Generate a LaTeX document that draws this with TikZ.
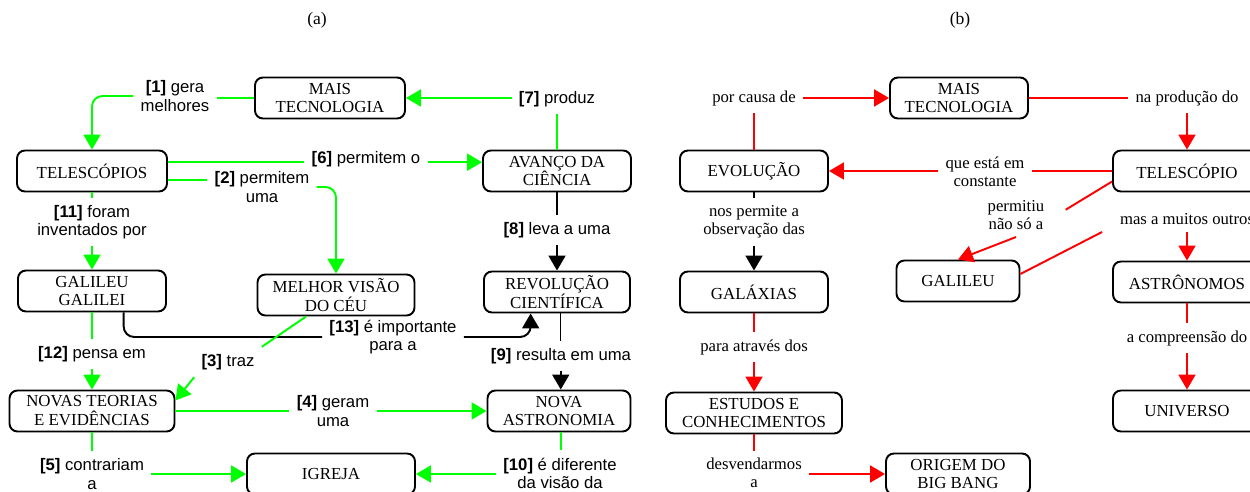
\documentclass[tikz,border=0pt]{standalone}
\usepackage{fontspec}
\setmainfont{Liberation Serif}
\setsansfont{Liberation Sans}
\usetikzlibrary{arrows.meta, positioning}
\definecolor{mapgreen}{HTML}{00FF00}
\definecolor{mapred}{HTML}{FF0000}

\begin{document}
\begin{tikzpicture}[
    x=0.02cm, y=-0.02cm,
    box/.style={draw, line width=1.1pt, rounded corners=4.5pt, minimum height=0.82cm, inner sep=1pt, align=center, font=\fontsize{9.6}{10.8}\selectfont},
    lbla/.style={align=center, inner sep=4pt, font=\sffamily\fontsize{9.5}{10.3}\selectfont},
    lblb/.style={align=center, inner sep=4pt, font=\fontsize{9.5}{10.3}\selectfont},
    link/.style={line width=1.1pt},
    arrow/.style={link, -{Triangle[length=3mm, width=3.4mm]}},
    rc/.style={rounded corners=6pt},
]
    \useasboundingbox (0,0) rectangle (1250,492);

    % Titles
    \node[font=\fontsize{10}{12}\selectfont] (titA) at (317,20) {(a)};
    \node[font=\fontsize{10}{12}\selectfont] (titB) at (960,20) {(b)};

    % (a) concepts
    \node[box, minimum width=3cm] (maisA) at (330,98) {MAIS\\TECNOLOGIA};
    \node[box, minimum width=3cm] (telA) at (92,171) {TELESCÓPIOS};
    \node[box, minimum width=2.96cm] (avA) at (557,171) {AVANÇO DA\\CIÊNCIA};
    \node[box, minimum width=2.96cm] (galA) at (92,291) {GALILEU\\GALILEI};
    \node[box, minimum width=3.14cm] (melA) at (336,295) {MELHOR VISÃO\\DO CÉU};
    \node[box, minimum width=2.92cm] (revA) at (557,292) {REVOLUÇÃO\\CIENTÍFICA};
    \node[box, minimum width=3.3cm] (novasA) at (92,411) {NOVAS TEORIAS\\E EVIDÊNCIAS};
    \node[box, minimum width=2.86cm] (novaA) at (559,411) {NOVA\\ASTRONOMIA};
    \node[box, minimum width=3.36cm] (igA) at (331,474) {IGREJA};

    % (a) linking phrases
    \node[lbla] (l1) at (175,96) {\textbf{[1]} gera\\melhores};
    \node[lbla] (l2) at (262,187) {\textbf{[2]} permitem\\uma};
    \node[lbla] (l3) at (228,362) {\textbf{[3]} traz};
    \node[lbla] (l4) at (333,411) {\textbf{[4]} geram\\uma};
    \node[lbla] (l5) at (92,474) {\textbf{[5]} contrariam\\a};
    \node[lbla] (l6) at (366,159) {\textbf{[6]} permitem o};
    \node[lbla] (l7) at (557,99) {\textbf{[7]} produz};
    \node[lbla] (l8) at (557,230) {\textbf{[8]} leva a uma};
    \node[lbla] (l9) at (561,356) {\textbf{[9]} resulta em uma};
    \node[lbla] (l10) at (560,473) {\textbf{[10]} é diferente\\da visão da};
    \node[lbla] (l11) at (92,222) {\textbf{[11]} foram\\inventados por};
    \node[lbla] (l12) at (92,354) {\textbf{[12]} pensa em};
    \node[lbla] (l13) at (393,337) {\textbf{[13]} é importante\\para a};

    % (a) black links
    \draw[link] (avA.south) -- (l8.north);
    \draw[arrow] (l8.south) -- (revA.north);
    \draw[link] ([xshift=2pt]revA.south) -- ([xshift=2pt]revA.south |- l9.north);
    \draw[arrow] ([xshift=1pt]novaA.north |- l9.south) -- ([xshift=1pt]novaA.north);
    \draw[link, rc] ([xshift=18pt]galA.south) |- (l13.west);
    \draw[arrow, rc] (l13.east) -| ([xshift=-15pt]revA.south);

    % (a) green links
    \draw[link, mapgreen] (maisA.west) -- (maisA.west -| l1.east);
    \draw[arrow, mapgreen, rc] (l1.west) -| (telA.north);
    \draw[link, mapgreen] ([yshift=-5pt]telA.east) -- ([yshift=-5pt]telA.east -| l2.west);
    \draw[arrow, mapgreen, rc] (l2.east) -| (melA.north);
    \draw[link, mapgreen] ([yshift=5pt]telA.east) -- ([yshift=5pt]telA.east -| l6.west);
    \draw[arrow, mapgreen] ([yshift=5pt]avA.west -| l6.east) -- ([yshift=5pt]avA.west);
    \draw[link, mapgreen] (avA.north) -- (l7.south);
    \draw[arrow, mapgreen] (l7.west |- maisA.east) -- (maisA.east);
    \draw[link, mapgreen] (telA.south) -- (l11.north);
    \draw[arrow, mapgreen] (l11.south) -- (galA.north);
    \draw[link, mapgreen] (galA.south) -- (l12.north);
    \draw[arrow, mapgreen] (l12.south) -- (novasA.north);
    \draw[link, mapgreen] ([xshift=-17pt]melA.south) -- (l3.north east);
    \draw[arrow, mapgreen] (l3.south west) -- ([yshift=6pt]novasA.east);
    \draw[link, mapgreen] (novasA.east) -- (l4.west);
    \draw[arrow, mapgreen] (l4.east) -- (novaA.west);
    \draw[link, mapgreen] (novasA.south) -- (l5.north);
    \draw[arrow, mapgreen] (l5.east |- igA.west) -- (igA.west);
    \draw[link, mapgreen] ([xshift=1pt]novaA.south) -- ([xshift=1pt]novaA.south |- l10.north);
    \draw[arrow, mapgreen] (l10.west |- igA.east) -- (igA.east);

    % (b) concepts
    \node[box, minimum width=2.76cm] (maisB) at (959,98) {MAIS\\TECNOLOGIA};
    \node[box, minimum width=2.96cm] (evB) at (754,171) {EVOLUÇÃO};
    \node[box, minimum width=2.96cm] (telB) at (1187,171) {TELESCÓPIO};
    \node[box, minimum width=2.46cm] (galB) at (958,281) {GALILEU};
    \node[box, minimum width=2.96cm] (astB) at (1187,282) {ASTRÔNOMOS};
    \node[box, minimum width=2.96cm] (galxB) at (754,292) {GALÁXIAS};
    \node[box, minimum width=3.52cm] (estB) at (754,413) {ESTUDOS E\\CONHECIMENTOS};
    \node[box, minimum width=2.88cm] (origB) at (958,474) {ORIGEM DO\\BIG BANG};
    \node[box, minimum width=2.96cm] (uniB) at (1187,411) {UNIVERSO};

    % (b) linking phrases
    \node[lblb] (lb1) at (754,98) {por causa de};
    \node[lblb] (lb2) at (1187,98) {na produção do};
    \node[lblb] (lb3) at (985,172) {que está em\\constante};
    \node[lblb] (lb4) at (1016,215) {permitiu\\não só a};
    \node[lblb] (lb5) at (1187,219) {mas a muitos outros};
    \node[lblb] (lb6) at (1187,338) {a compreensão do};
    \node[lblb] (lb7) at (754,222) {nos permite a\\observação das};
    \node[lblb] (lb8) at (754,347) {para através dos};
    \node[lblb] (lb9) at (754,473) {desvendarmos\\a};

    % (b) links
    \draw[link] (evB.south) -- (lb7.north);
    \draw[arrow] (lb7.south) -- (galxB.north);
    \draw[link, mapred] (evB.north) -- (lb1.south);
    \draw[arrow, mapred] (lb1.east) -- (maisB.west);
    \draw[link, mapred] (maisB.east) -- (lb2.west);
    \draw[arrow, mapred] (lb2.south) -- (telB.north);
    \draw[link, mapred] (telB.west) -- (lb3.east |- telB.west);
    \draw[arrow, mapred] (lb3.west |- evB.east) -- (evB.east);
    \draw[link, mapred] ([yshift=-6pt]telB.west) -- ([shift={(8pt,3pt)}]lb4.east);
    \draw[arrow, mapred] (lb4.south) -- (galB.north);
    \draw[link, mapred] ([yshift=4pt]galB.east) -- ([xshift=-6pt]lb5.south west);
    \draw[arrow, mapred] (lb5.south) -- (astB.north);
    \draw[link, mapred] (astB.south) -- (lb6.north);
    \draw[arrow, mapred] (lb6.south) -- (uniB.north);
    \draw[link, mapred] (galxB.south) -- (lb8.north);
    \draw[arrow, mapred] (lb8.south) -- (estB.north);
    \draw[link, mapred] (estB.south) -- (lb9.north);
    \draw[arrow, mapred] (lb9.east |- origB.west) -- (origB.west);
\end{tikzpicture}
\end{document}
